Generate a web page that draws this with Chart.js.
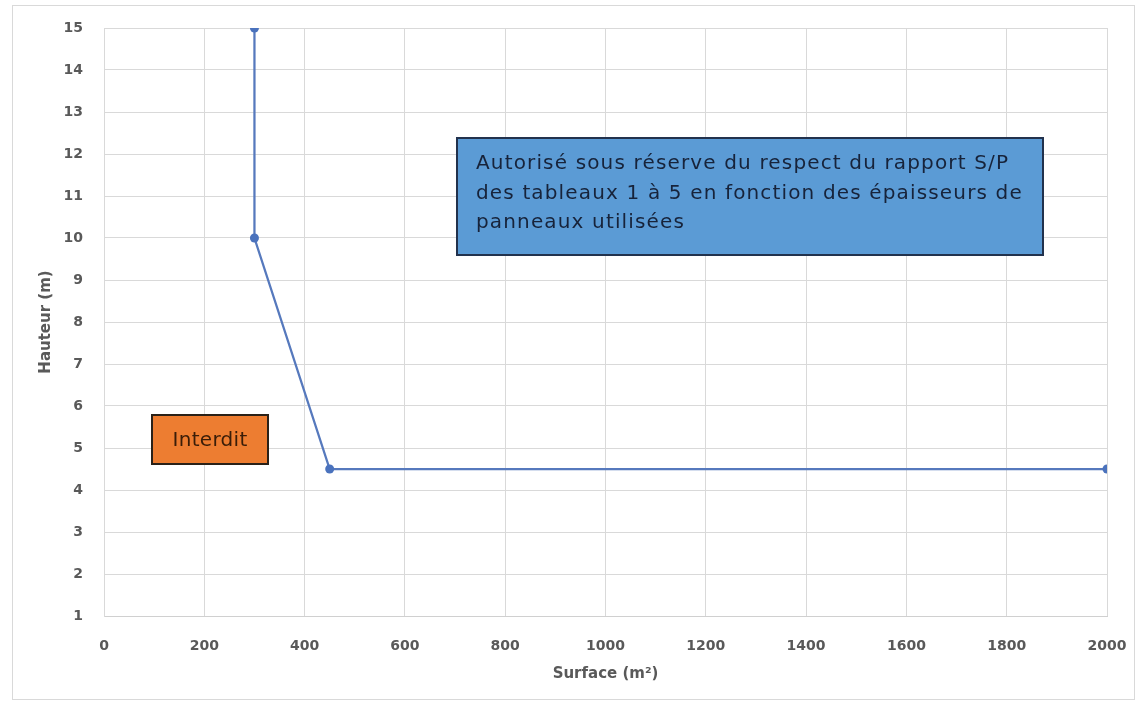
<!DOCTYPE html>
<html lang="fr">
<head>
<meta charset="utf-8">
<title>Hauteur / Surface</title>
<script src="https://cdn.jsdelivr.net/npm/chart.js@4/dist/chart.umd.min.js"></script>
<style>
  html, body { margin: 0; padding: 0; background: #ffffff; }
  canvas { display: block; }
</style>
</head>
<body>
<canvas id="chart" width="1139" height="703"></canvas>
<script>
// Limit curve: surface (m²) against height (m)
const surfaces = [300, 300, 450, 2000];
const hauteurs = [15, 10, 4.5, 4.5];

// Axis ticks
const xTicks = [0, 200, 400, 600, 800, 1000, 1200, 1400, 1600, 1800, 2000];
const yTicks = [1, 2, 3, 4, 5, 6, 7, 8, 9, 10, 11, 12, 13, 14, 15];

// Zone labels
const zoneAutoriseLines = [
  'Autorisé sous réserve du respect du rapport S/P',
  'des tableaux 1 à 5 en fonction des épaisseurs de',
  'panneaux utilisées'
];
const zoneInterditLines = ['Interdit'];

// Boxes placed in data units (surface, hauteur)
const zones = [
  { x0: 704, x1: 1872, y0: 12.38, y1: 9.6, fill: '#5b9bd5', stroke: '#22324d',
    lines: zoneAutoriseLines, align: 'left', inset: 19, lineGap: 29.5, firstOffset: 26,
    font: '20px "DejaVu Sans"', spacing: '1.15px', color: '#17233a' },
  { x0: 96, x1: 327, y0: 5.79, y1: 4.62, fill: '#ed7d31', stroke: '#2a2118',
    lines: zoneInterditLines, align: 'center', font: '20px "DejaVu Sans"', spacing: '0.3px', color: '#3a1d08' }
];

const points = surfaces.map((s, i) => ({ x: s, y: hauteurs[i] }));

const frame = {
  id: 'frame',
  beforeDraw(chart) {
    const ctx = chart.ctx;
    ctx.save();
    ctx.fillStyle = '#ffffff';
    ctx.fillRect(0, 0, chart.width, chart.height);
    ctx.strokeStyle = '#d9d9d9';
    ctx.lineWidth = 1;
    ctx.strokeRect(12.5, 5.5, chart.width - 17, chart.height - 9);
    ctx.restore();
  },
  beforeDatasetsDraw(chart) {
    const ctx = chart.ctx;
    const xs = chart.scales.x, ys = chart.scales.y;
    zones.forEach(z => {
      const l = Math.round(xs.getPixelForValue(z.x0));
      const r = Math.round(xs.getPixelForValue(z.x1));
      const t = Math.round(ys.getPixelForValue(z.y0));
      const b = Math.round(ys.getPixelForValue(z.y1));
      ctx.save();
      ctx.fillStyle = z.fill;
      ctx.fillRect(l, t, r - l, b - t);
      ctx.strokeStyle = z.stroke;
      ctx.lineWidth = 2;
      ctx.strokeRect(l, t, r - l, b - t);
      ctx.fillStyle = z.color;
      ctx.font = z.font;
      if ('letterSpacing' in ctx) ctx.letterSpacing = z.spacing;
      ctx.textBaseline = 'middle';
      if (z.align === 'left') {
        ctx.textAlign = 'left';
        z.lines.forEach((txt, i) => {
          ctx.fillText(txt, l + z.inset, t + z.firstOffset + i * z.lineGap);
        });
      } else {
        ctx.textAlign = 'center';
        ctx.fillText(z.lines[0], (l + r) / 2, (t + b) / 2 + 1);
      }
      ctx.restore();
    });
  }
};

const tickFont = { family: '"DejaVu Sans"', size: 14, weight: 'bold' };
const titleFont = { family: '"DejaVu Sans"', size: 15, weight: 'bold' };

new Chart(document.getElementById('chart'), {
  type: 'line',
  data: {
    datasets: [{
      data: points,
      borderColor: '#5679bd',
      backgroundColor: '#4a72bd',
      borderWidth: 2.25,
      pointRadius: 4.5,
      pointBorderWidth: 0,
      pointBackgroundColor: '#4a72bd',
      tension: 0,
      fill: false
    }]
  },
  options: {
    responsive: false,
    animation: false,
    layout: { padding: { left: 30, right: 32, top: 28, bottom: 10 } },
    plugins: { legend: { display: false }, tooltip: { enabled: false } },
    scales: {
      x: {
        type: 'linear',
        min: xTicks[0],
        max: xTicks[xTicks.length - 1],
        afterBuildTicks: s => { s.ticks = xTicks.map(v => ({ value: v })); },
        afterFit: s => { s.height = 77; s.paddingLeft = 0; s.paddingRight = 0; },
        grid: { color: '#d9d9d9', lineWidth: 1, drawTicks: false },
        border: { color: '#d0d0d0', width: 1 },
        ticks: { color: '#595959', font: tickFont, padding: 22, maxRotation: 0, autoSkip: false,
                 callback: v => String(v) },
        title: { display: true, text: 'Surface (m²)', color: '#595959', font: titleFont, padding: { top: 4, bottom: 10 } }
      },
      y: {
        type: 'linear',
        min: yTicks[0],
        max: yTicks[yTicks.length - 1],
        afterBuildTicks: s => { s.ticks = yTicks.map(v => ({ value: v })); },
        afterFit: s => { s.width = 74; s.paddingTop = 0; s.paddingBottom = 0; },
        grid: { color: '#d9d9d9', lineWidth: 1, drawTicks: false },
        border: { color: '#d9d9d9', width: 1 },
        ticks: { color: '#595959', font: tickFont, padding: 21, autoSkip: false,
                 callback: v => String(v) },
        title: { display: true, text: 'Hauteur (m)', color: '#595959', font: titleFont, padding: { top: 7, bottom: 4 } }
      }
    }
  },
  plugins: [frame]
});
</script>
</body>
</html>
